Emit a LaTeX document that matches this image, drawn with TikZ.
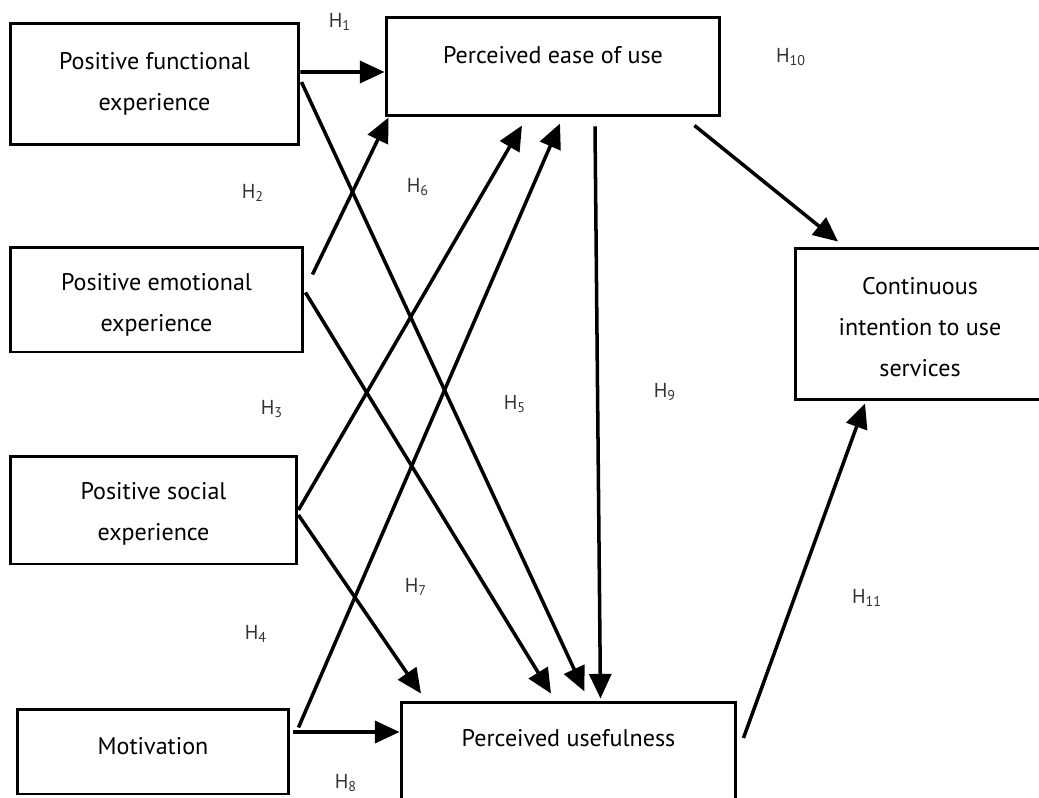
\documentclass[tikz,border=0pt]{standalone}
\usepackage{fontspec}
\setmainfont{PT Sans}
\usetikzlibrary{arrows.meta, calc}

\begin{document}
\begin{tikzpicture}[x=0.02cm, y=-0.02cm,
  box/.style={draw, line width=1.7pt, align=center, font=\fontsize{13.7}{23.5}\selectfont},
  arr/.style={line width=2pt, -{Triangle[length=14pt,width=12.5pt]}},
  hyp/.style={font=\fontsize{11.5}{13}\selectfont, text=black!80}]
  \useasboundingbox (0,0) rectangle (1039,798);

  % constructs
  \node[box, minimum width=5.78cm, minimum height=2.44cm] (pfe) at (154.5,84) {Positive functional\\experience};
  \node[box, minimum width=5.86cm, minimum height=2.1cm] (pee) at (156.5,299.5) {};
  \node[box, draw=none] (peelbl) at (156.5,305) {Positive emotional\\experience};
  \node[box, minimum width=5.74cm, minimum height=2.16cm] (pse) at (153.5,510) {};
  \node[box, draw=none] (pselbl) at (153.5,514) {Positive social\\experience};
  \node[box, minimum width=5.44cm, minimum height=1.7cm] (mot) at (153,751.5) {};
  \node[box, draw=none] (motlbl) at (153,746) {Motivation};
  \node[box, minimum width=6.68cm, minimum height=1.98cm] (peou) at (553,66.5) {};
  \node[box, draw=none] (peoulbl) at (553,55) {Perceived ease of use};
  \node[box, minimum width=6.7cm, minimum height=2.26cm] (pu) at (568.5,758.5) {};
  \node[box, draw=none] (pulbl) at (568.5,738) {Perceived usefulness};
  \node[box, minimum width=5cm, minimum height=3.04cm] (ci) at (920,324) {};
  \node[box, draw=none] (cilbl) at (920,327) {Continuous\\intention to use\\services};

  % paths
  \draw[arr] ($(pfe.east)+(0,-12)$) -- ($(peou.west)+(0,5.5)$);
  \draw[arr] ($(pee.east)+(8,-25)$) -- ($(peou.south west)+(4,0)$);
  \draw[arr] ($(pfe.east)+(1,-2)$) -- ($(pu.north)+(16,-9)$);
  \draw[arr] ($(pee.east)+(1,-7)$) -- ($(pu.north)+(-17.5,-7)$);
  \draw[arr] (pse.east) -- ($(peou.south)+(-31,8)$);
  \draw[arr] ($(pse.east)+(0,5)$) -- ($(pu.north)+(-147.5,-7)$);
  \draw[arr] ($(mot.east)+(8,-24)$) -- ($(peou.south)+(7,6)$);
  \draw[arr] ($(mot.east)+(3,-19.5)$) -- ($(pu.west)+(0,-26.5)$);
  \draw[arr] ($(peou.south)+(42,9)$) -- ($(pu.north)+(32,-2)$);
  \draw[arr] ($(peou.south east)+(-27,8)$) -- ($(ci.north)+(-82,-5)$);
  \draw[arr] ($(pu.east)+(6,-20.5)$) -- ($(ci.south)+(-55,2)$);

  % hypotheses
  \foreach \x/\y/\n in {340/22/1, 253/193/2, 272/409/3, 256/634/4, 515/404/5,
    418/187/6, 416/587/7, 346/783/8, 665/392/9, 791/57/10, 867/598/11}
    \node[hyp] (h\n) at (\x,\y) {H\textsubscript{\n}};
\end{tikzpicture}
\end{document}
